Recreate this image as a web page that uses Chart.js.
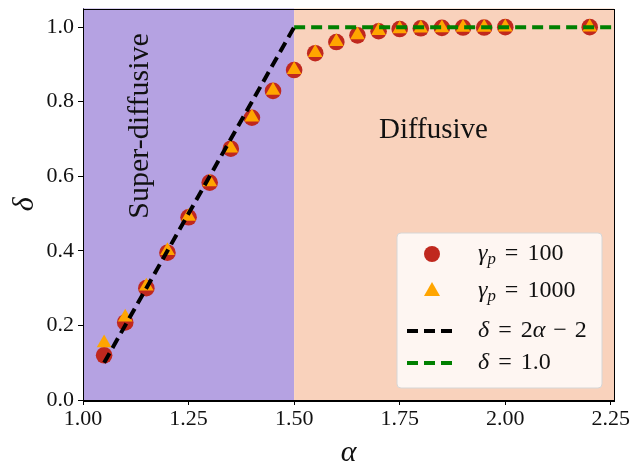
<!DOCTYPE html>
<html>
<head>
<meta charset="utf-8">
<script src="https://cdn.jsdelivr.net/npm/chart.js@4/dist/chart.umd.min.js"></script>
<style>
  html, body { margin: 0; padding: 0; background: #ffffff; }
  #wrap { width: 634px; height: 466px; }
</style>
</head>
<body>
<div id="wrap"><canvas id="phase-chart" width="634" height="466"></canvas></div>
<script>
// data
var alphas = [1.05, 1.10, 1.15, 1.20, 1.25, 1.30, 1.35, 1.40, 1.45, 1.50, 1.55, 1.60, 1.65, 1.70, 1.75, 1.80, 1.85, 1.90, 1.95, 2.00, 2.20];
var deltaGamma100 = [0.12, 0.208, 0.30, 0.395, 0.49, 0.583, 0.674, 0.757, 0.829, 0.885, 0.93, 0.96, 0.978, 0.989, 0.995, 0.997, 0.998, 0.999, 0.999, 1.0, 1.0];
var deltaGamma1000 = [0.153, 0.222, 0.305, 0.40, 0.492, 0.585, 0.675, 0.758, 0.830, 0.886, 0.931, 0.961, 0.979, 0.990, 0.995, 0.997, 0.998, 0.999, 0.999, 1.0, 1.0];
var superAlpha = [1.05, 1.50];
var superDelta = [0.10, 1.00];
var flatAlpha = [1.50, 2.2575];
var flatDelta = [1.0, 1.0];
var xTicks = [1.00, 1.25, 1.50, 1.75, 2.00, 2.25];
var yTicks = [0.0, 0.2, 0.4, 0.6, 0.8, 1.0];
var regionEdges = [1.0, 1.5, 2.2575];
var regionColors = ['rgb(181,162,226)', 'rgb(249,210,188)'];

var SERIF = '"Liberation Serif", "DejaVu Serif", serif';

function toPoints(xs, ys) {
    var pts = [];
    for (var i = 0; i < xs.length; i++) pts.push({ x: xs[i], y: ys[i] });
    return pts;
}

// draws a list of text pieces, some italic, some as subscripts, with optional side gaps
function drawMath(ctx, parts, x, y, size) {
    var cx = x;
    parts.forEach(function (p) {
        var s = p.sub ? size * 0.7 : size;
        var g = p.gap || 0;
        ctx.font = (p.it ? 'italic ' : '') + s + 'px ' + SERIF;
        cx += g;
        ctx.fillText(p.t, cx, p.sub ? y + size * 0.22 : y);
        cx += ctx.measureText(p.t).width + g;
    });
}

var regionsPlugin = {
    id: 'regions',
    beforeDatasetsDraw: function (chart) {
        var ctx = chart.ctx, xs = chart.scales.x, a = chart.chartArea;
        ctx.save();
        for (var i = 0; i < regionColors.length; i++) {
            var x0 = xs.getPixelForValue(regionEdges[i]);
            var x1 = xs.getPixelForValue(regionEdges[i + 1]);
            ctx.fillStyle = regionColors[i];
            ctx.fillRect(x0, a.top, x1 - x0, a.bottom - a.top);
        }
        // region names
        ctx.fillStyle = '#111';
        ctx.textBaseline = 'middle';
        ctx.textAlign = 'center';
        ctx.save();
        ctx.font = '30px ' + SERIF;
        ctx.translate(xs.getPixelForValue(1.135), chart.scales.y.getPixelForValue(0.735));
        ctx.rotate(-Math.PI / 2);
        ctx.fillText('Super-diffusive', 0, 0);
        ctx.restore();
        ctx.font = '29px ' + SERIF;
        ctx.fillText('Diffusive', xs.getPixelForValue(1.83), chart.scales.y.getPixelForValue(0.722));
        ctx.restore();
    }
};

var frameLegendPlugin = {
    id: 'frameLegend',
    afterDraw: function (chart) {
        var ctx = chart.ctx, a = chart.chartArea;
        ctx.save();
        ctx.strokeStyle = '#000';
        ctx.lineWidth = 1;
        ctx.strokeRect(Math.round(a.left) + 0.5, Math.round(a.top) + 0.5, Math.round(a.right - a.left), Math.round(a.bottom - a.top));

        // legend box
        var bw = 205, bh = 155;
        var bx = a.right - 12 - bw, by = a.bottom - 12 - bh;
        ctx.beginPath();
        ctx.roundRect(bx, by, bw, bh, 4);
        ctx.fillStyle = 'rgba(255,255,255,0.8)';
        ctx.fill();
        ctx.strokeStyle = '#d6d6d6';
        ctx.lineWidth = 1;
        ctx.stroke();

        var sx = bx + 35, tx = bx + 81;
        var rows = [by + 21, by + 58, by + 98, by + 130];
        var ds = chart.data.datasets;
        ctx.fillStyle = ds[0].backgroundColor;
        ctx.beginPath();
        ctx.arc(sx, rows[0], 8, 0, Math.PI * 2);
        ctx.fill();
        ctx.fillStyle = ds[1].backgroundColor;
        ctx.beginPath();
        ctx.moveTo(sx, rows[1] - 9);
        ctx.lineTo(sx + 8, rows[1] + 5);
        ctx.lineTo(sx - 8, rows[1] + 5);
        ctx.closePath();
        ctx.fill();
        [2, 3].forEach(function (k) {
            ctx.strokeStyle = ds[k].borderColor;
            ctx.lineWidth = ds[k].borderWidth;
            ctx.setLineDash(ds[k].borderDash);
            ctx.beginPath();
            ctx.moveTo(bx + 10, rows[k]);
            ctx.lineTo(bx + 61, rows[k]);
            ctx.stroke();
        });
        ctx.setLineDash([]);

        ctx.fillStyle = '#111';
        ctx.textAlign = 'left';
        ctx.textBaseline = 'middle';
        var fs = 24;
        drawMath(ctx, [{ t: '\u03B3', it: true }, { t: 'p', it: true, sub: true }, { t: '=', gap: 9 }, { t: '100' }], tx, rows[0], fs);
        drawMath(ctx, [{ t: '\u03B3', it: true }, { t: 'p', it: true, sub: true }, { t: '=', gap: 9 }, { t: '1000' }], tx, rows[1], fs);
        drawMath(ctx, [{ t: '\u03B4', it: true }, { t: '=', gap: 9 }, { t: '2' }, { t: '\u03B1', it: true }, { t: '\u2212', gap: 8 }, { t: '2' }], tx, rows[2], fs);
        drawMath(ctx, [{ t: '\u03B4', it: true }, { t: '=', gap: 9 }, { t: '1.0' }], tx, rows[3], fs);
        ctx.restore();
    }
};

var ctx = document.getElementById('phase-chart');

var chartData = {
    datasets: [{
        label: '\u03B3p = 100',
        data: toPoints(alphas, deltaGamma100),
        backgroundColor: 'rgb(192,40,30)',
        pointStyle: 'circle',
        pointRadius: 8.3,
        pointBorderWidth: 0,
        showLine: false,
        order: 4
    }, {
        label: '\u03B3p = 1000',
        data: toPoints(alphas, deltaGamma1000),
        backgroundColor: '#ffa500',
        pointStyle: 'triangle',
        pointRadius: 8.5,
        pointBorderWidth: 0,
        showLine: false,
        order: 3
    }, {
        label: '\u03B4 = 2\u03B1 - 2',
        data: toPoints(superAlpha, superDelta),
        borderColor: '#000000',
        borderWidth: 4,
        borderDash: [11, 6],
        pointRadius: 0,
        showLine: true,
        order: 1
    }, {
        label: '\u03B4 = 1.0',
        data: toPoints(flatAlpha, flatDelta),
        borderColor: '#008000',
        borderWidth: 4,
        borderDash: [11, 6],
        pointRadius: 0,
        showLine: true,
        order: 2
    }]
};

var chartOptions = {
    responsive: false,
    animation: false,
    devicePixelRatio: 1,
    layout: { padding: { top: 7, right: 20, left: 0, bottom: 0 } },
    plugins: { legend: { display: false }, tooltip: { enabled: false } },
    scales: {
        x: {
            type: 'linear',
            min: 1.0,
            max: 2.2575,
            afterBuildTicks: function (scale) { scale.ticks = xTicks.map(function (v) { return { value: v }; }); },
            afterFit: function (scale) { scale.height = 66; scale.paddingLeft = 0; scale.paddingRight = 0; },
            ticks: {
                color: '#111',
                font: { family: SERIF, size: 22 },
                padding: 1,
                maxRotation: 0,
                callback: function (v) { return Number(v).toFixed(2); }
            },
            grid: { drawOnChartArea: false, drawTicks: true, tickLength: 5, color: '#000' },
            border: { display: true, color: '#000' },
            title: { display: true, text: '\u03B1', color: '#111', font: { family: SERIF, size: 30, style: 'italic' }, padding: { top: 0, bottom: -5 } }
        },
        y: {
            type: 'linear',
            min: 0,
            max: 1.05,
            afterBuildTicks: function (scale) { scale.ticks = yTicks.map(function (v) { return { value: v }; }); },
            afterFit: function (scale) { scale.width = 83; scale.paddingTop = 0; scale.paddingBottom = 0; },
            ticks: {
                color: '#111',
                font: { family: SERIF, size: 22 },
                padding: 4,
                callback: function (v) { return Number(v).toFixed(1); }
            },
            grid: { drawOnChartArea: false, drawTicks: true, tickLength: 5, color: '#000' },
            border: { display: true, color: '#000' },
            title: { display: true, text: '\u03B4', color: '#111', font: { family: SERIF, size: 30, style: 'italic' }, padding: { top: 7, bottom: 0 } }
        }
    }
};

var config = {
    type: 'scatter',
    data: chartData,
    options: chartOptions,
    plugins: [regionsPlugin, frameLegendPlugin]
};

var phaseChart = new Chart(ctx, config);
</script>
</body>
</html>
